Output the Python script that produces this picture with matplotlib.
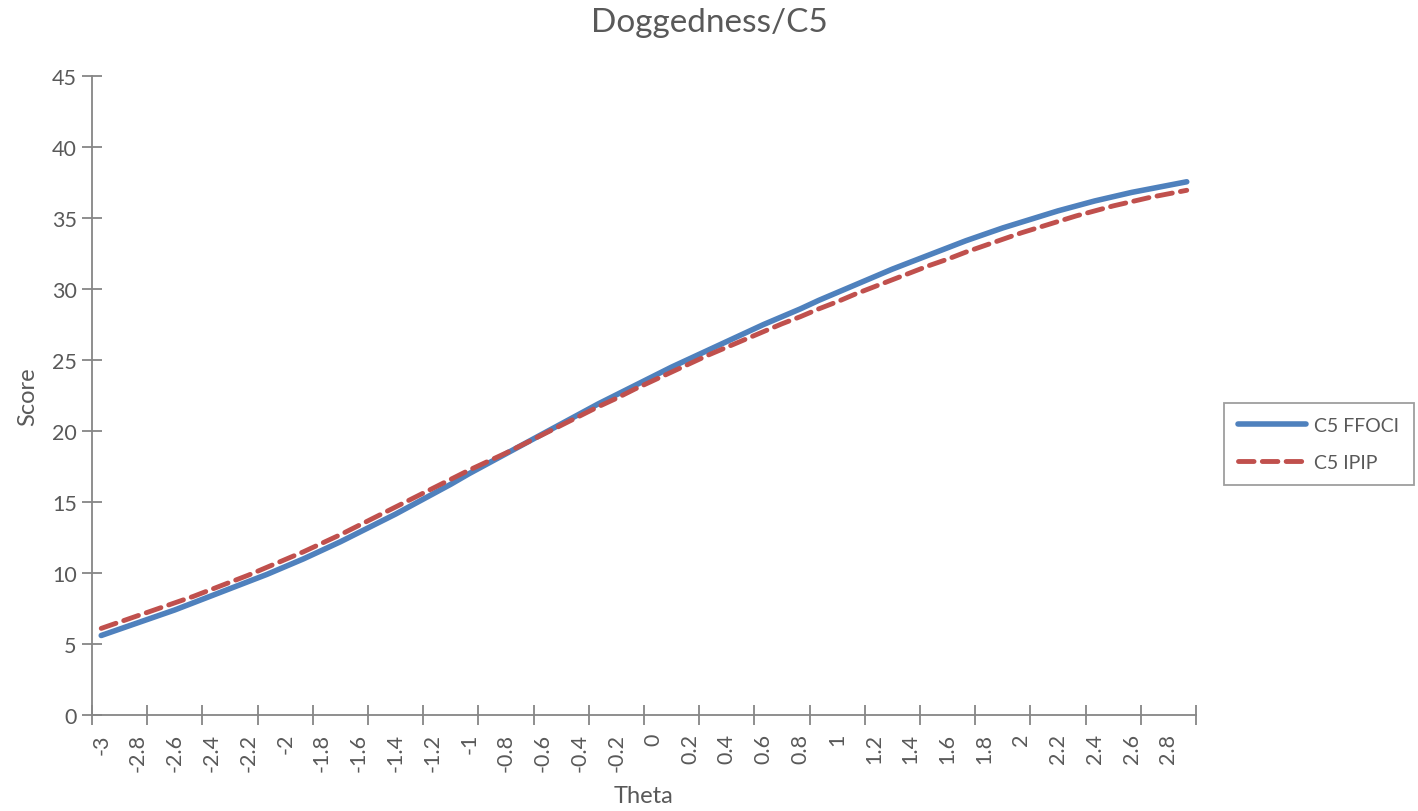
import matplotlib
matplotlib.use("Agg")
import matplotlib.pyplot as plt
from matplotlib.ticker import FixedLocator

plt.rcParams['font.family'] = ['Lato', 'DejaVu Sans']

# Theta categories (one per data point)
theta = [-3.0, -2.9, -2.8, -2.7, -2.6, -2.5, -2.4, -2.3, -2.2, -2.1,
         -2.0, -1.9, -1.8, -1.7, -1.6, -1.5, -1.4, -1.3, -1.2, -1.1,
         -1.0, -0.9, -0.8, -0.7, -0.6, -0.5, -0.4, -0.3, -0.2, -0.1,
         0.0, 0.1, 0.2, 0.3, 0.4, 0.5, 0.6, 0.7, 0.8, 0.9,
         1.0, 1.1, 1.2, 1.3, 1.4, 1.5, 1.6, 1.7, 1.8, 1.9,
         2.0, 2.1, 2.2, 2.3, 2.4, 2.5, 2.6, 2.7, 2.8, 2.9]

c5_ffoci = [5.6, 6.05, 6.5, 6.95, 7.4, 7.9, 8.4, 8.9, 9.4, 9.9,
            10.45, 11.0, 11.6, 12.2, 12.85, 13.5, 14.15, 14.85, 15.55, 16.25,
            17.0, 17.7, 18.4, 19.1, 19.8, 20.5, 21.2, 21.9, 22.55, 23.2,
            23.85, 24.5, 25.1, 25.7, 26.3, 26.9, 27.5, 28.05, 28.6, 29.2,
            29.75, 30.3, 30.85, 31.4, 31.9, 32.4, 32.9, 33.4, 33.85, 34.3,
            34.7, 35.1, 35.5, 35.85, 36.2, 36.5, 36.8, 37.05, 37.3, 37.55]

c5_ipip = [6.1, 6.55, 7.0, 7.45, 7.9, 8.35, 8.85, 9.35, 9.85, 10.4,
           10.95, 11.5, 12.1, 12.7, 13.35, 14.0, 14.65, 15.3, 15.95, 16.6,
           17.25, 17.85, 18.45, 19.1, 19.75, 20.4, 21.05, 21.7, 22.3, 22.95,
           23.55, 24.15, 24.75, 25.35, 25.9, 26.45, 27.0, 27.55, 28.05, 28.6,
           29.1, 29.65, 30.15, 30.65, 31.15, 31.65, 32.1, 32.6, 33.05, 33.5,
           33.95, 34.35, 34.75, 35.15, 35.5, 35.85, 36.15, 36.45, 36.7, 36.95]

axis_col = '#868686'
text_col = '#595959'

fig = plt.figure(figsize=(14.18, 8.12), dpi=100)
ax = fig.add_axes([0.0649, 0.1182, 0.7785, 0.787])

idx = list(range(len(theta)))
ax.plot(idx, c5_ffoci, color='#4F81BD', lw=4.0, solid_capstyle='round', label='C5 FFOCI')
ax.plot(idx, c5_ipip, color='#C0504D', lw=3.5, dashes=(3.2, 1.7), dash_capstyle='round', label='C5 IPIP')

ax.set_xlim(-0.5, len(theta) - 0.5)
ax.set_ylim(0, 45)
ax.set_yticks(range(0, 50, 5))

# labels on every second category, tick marks every third category boundary
ax.set_xticks(idx[::2])
ax.set_xticklabels([f"{theta[i]:g}" for i in idx[::2]], rotation=90, va='top', ha='center')
ax.xaxis.set_minor_locator(FixedLocator([i - 0.5 for i in range(0, len(theta) + 1, 3)]))
ax.tick_params(axis='x', which='major', length=0, pad=13, labelsize=15.5, labelcolor=text_col)
ax.tick_params(axis='x', which='minor', direction='inout', length=14, width=1.3, color=axis_col)
ax.tick_params(axis='y', direction='inout', length=14, width=1.3, color=axis_col,
               labelsize=15.5, labelcolor=text_col, pad=4)

for s in ['top', 'right']:
    ax.spines[s].set_visible(False)
for s in ['left', 'bottom']:
    ax.spines[s].set_color(axis_col)
    ax.spines[s].set_linewidth(1.3)

ax.set_xlabel('Theta', fontsize=17, color=text_col, labelpad=10)
ax.set_ylabel('Score', fontsize=17, color=text_col, labelpad=10)
fig.suptitle('Doggedness/C5', fontsize=24, color=text_col, y=0.99)

leg = fig.legend(loc='center left', bbox_to_anchor=(0.863, 0.452), fontsize=14,
                 frameon=True, fancybox=False, handlelength=3.5, labelspacing=1.0,
                 borderpad=0.75, handletextpad=0.4, borderaxespad=0.0, edgecolor=axis_col)
leg.get_frame().set_linewidth(1.3)
for t in leg.get_texts():
    t.set_color(text_col)

fig.savefig('out.png', dpi=100)
